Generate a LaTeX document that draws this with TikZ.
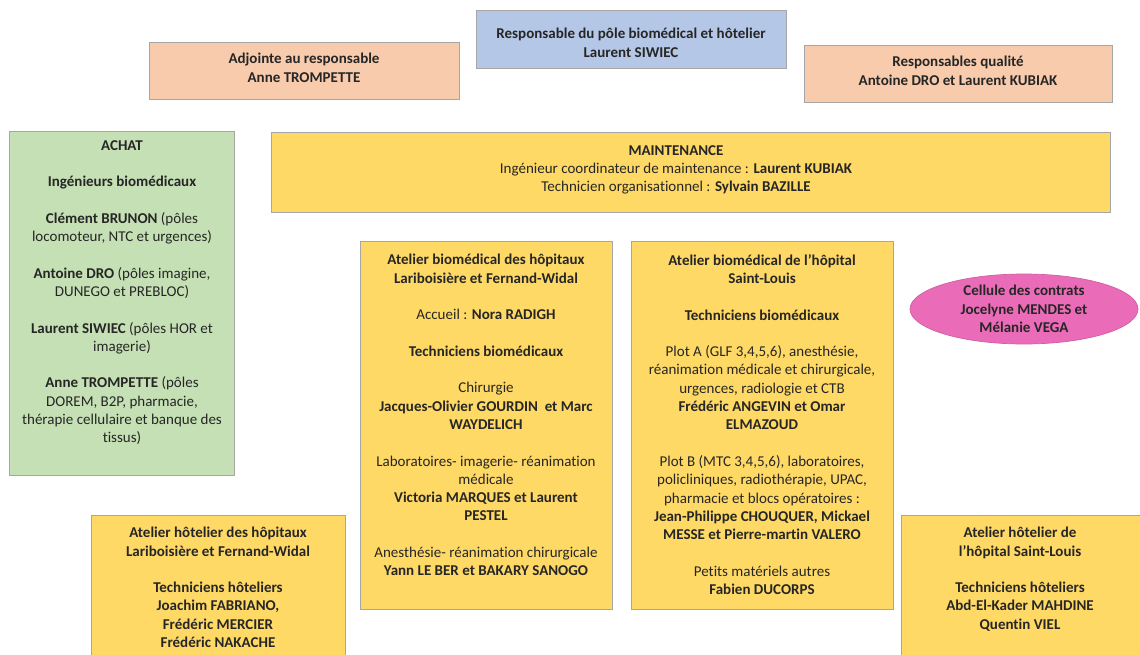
\documentclass[tikz,border=0pt]{standalone}
\usepackage{fontspec}
\setmainfont{Carlito}[Ligatures=NoCommon]
\usetikzlibrary{shapes.geometric}
\definecolor{peach}{HTML}{F8CBAD}
\definecolor{paleblue}{HTML}{B4C7E7}
\definecolor{palegreen}{HTML}{C5E0B4}
\definecolor{gold}{HTML}{FFD966}
\definecolor{rose}{HTML}{EA6CB8}
\definecolor{edge}{HTML}{A6A6A6}
\definecolor{ink}{HTML}{262626}

\begin{document}
\begin{tikzpicture}[x=1pt,y=-1pt,
  box/.style={draw=edge, line width=0.9pt, inner sep=0pt, anchor=north west},
  label/.style={align=center, inner sep=0pt, anchor=north, text=ink,
    font=\fontsize{15}{18.3}\selectfont},
  boldlabel/.style={label, font=\fontsize{15}{18.3}\selectfont\bfseries}]

\clip (0,0) rectangle (1140,654);
\fill[white] (0,0) rectangle (1140,654);

% --- top row ---
\node[box, fill=peach, minimum width=310, minimum height=57] (adj) at (149,42) {};
\node[boldlabel] (adjt) at (304,53)
  {Adjointe au responsable\\ Anne TROMPETTE};

\node[box, fill=paleblue, minimum width=310, minimum height=58] (resp) at (476,10) {};
\node[boldlabel] (respt) at (631,28)
  {Responsable du pôle biomédical et hôtelier\\ Laurent SIWIEC};

\node[box, fill=peach, minimum width=308, minimum height=57] (qual) at (804,45) {};
\node[boldlabel] (qualt) at (958,56)
  {Responsables qualité\\ Antoine DRO et Laurent KUBIAK};

% --- purchasing ---
\node[box, fill=palegreen, minimum width=225, minimum height=344] (achat) at (9,131) {};
\node[label] (achatt) at (122,140)
  {\textbf{ACHAT}\\[18.3pt]
   \textbf{Ingénieurs biomédicaux}\\[18.3pt]
   \textbf{Clément BRUNON} (pôles\\ locomoteur, NTC et urgences)\\[18.3pt]
   \textbf{Antoine DRO} (pôles imagine,\\ DUNEGO et PREBLOC)\\[18.3pt]
   \textbf{Laurent SIWIEC} (pôles HOR et\\ imagerie)\\[18.3pt]
   \textbf{Anne TROMPETTE} (pôles\\ DOREM, B2P, pharmacie,\\ thérapie cellulaire et banque des\\ tissus)};

% --- maintenance ---
\node[box, fill=gold, minimum width=839, minimum height=80] (maint) at (271,132) {};
\node[label] (maintt) at (676,145)
  {\textbf{MAINTENANCE}\\
   Ingénieur coordinateur de maintenance : \textbf{Laurent KUBIAK}\\
   Technicien organisationnel : \textbf{Sylvain BAZILLE}};

% --- biomedical workshops ---
\node[box, fill=gold, minimum width=252, minimum height=368] (lfw) at (360,241) {};
\node[label] (lfwt) at (486,254)
  {\textbf{Atelier biomédical des hôpitaux}\\ \textbf{Lariboisière et Fernand-Widal}\\[18.3pt]
   Accueil : \textbf{Nora RADIGH}\\[18.3pt]
   \textbf{Techniciens biomédicaux}\\[18.3pt]
   Chirurgie\\ \textbf{Jacques-Olivier GOURDIN\ \ et Marc}\\ \textbf{WAYDELICH}\\[18.3pt]
   Laboratoires- imagerie- réanimation\\ médicale\\ \textbf{Victoria MARQUES et Laurent}\\ \textbf{PESTEL}\\[18.3pt]
   Anesthésie- réanimation chirurgicale\\ \textbf{Yann LE BER et BAKARY SANOGO}};

\node[box, fill=gold, minimum width=262, minimum height=368] (sl) at (631,241) {};
\node[label] (slt) at (762,254)
  {\textbf{Atelier biomédical de l’hôpital}\\ \textbf{Saint-Louis}\\[18.3pt]
   \textbf{Techniciens biomédicaux}\\[18.3pt]
   Plot A (GLF 3,4,5,6), anesthésie,\\ réanimation médicale et chirurgicale,\\ urgences, radiologie et CTB\\
   \textbf{Frédéric ANGEVIN et Omar}\\ \textbf{ELMAZOUD}\\[18.3pt]
   Plot B (MTC 3,4,5,6), laboratoires,\\ policliniques, radiothérapie, UPAC,\\ pharmacie et blocs opératoires :\\
   \textbf{Jean-Philippe CHOUQUER, Mickael}\\ \textbf{MESSE et Pierre-martin VALERO}\\[18.3pt]
   Petits matériels autres\\ \textbf{Fabien DUCORPS}};

% --- contracts cell ---
\node[ellipse, draw=rose!88!black, line width=0.7pt, fill=rose, minimum width=228, minimum height=70,
      inner sep=0pt, align=center, text=ink, font=\fontsize{15}{18.3}\selectfont\bfseries] (contr) at (1024,309)
  {Cellule des contrats\\ Jocelyne MENDES et\\ Mélanie VEGA};

% --- hotel workshops ---
\node[box, fill=gold, minimum width=254, minimum height=160] (hlfw) at (91,515) {};
\node[boldlabel] (hlfwt) at (218,527)
  {Atelier hôtelier des hôpitaux\\ Lariboisière et Fernand-Widal\\[18.3pt]
   Techniciens hôteliers\\ Joachim FABRIANO,\\ Frédéric MERCIER\\ Frédéric NAKACHE};

\node[box, fill=gold, minimum width=260, minimum height=160] (hsl) at (901,515) {};
\node[boldlabel] (hslt) at (1020,527)
  {Atelier hôtelier de\\ l’hôpital Saint-Louis\\[18.3pt]
   Techniciens hôteliers\\ Abd-El-Kader MAHDINE\\ Quentin VIEL};

\end{tikzpicture}
\end{document}
